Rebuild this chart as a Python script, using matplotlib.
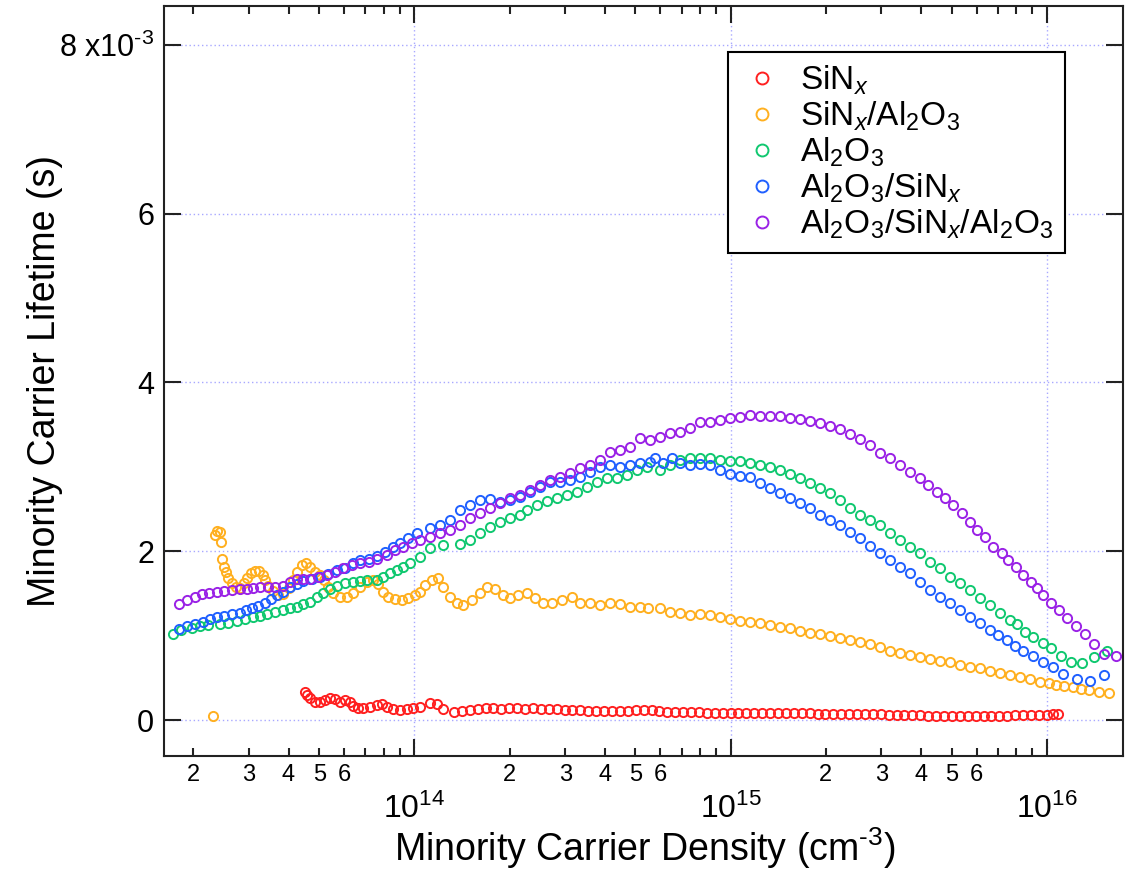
import numpy as np
import matplotlib
matplotlib.use('Agg')
import matplotlib.pyplot as plt
from matplotlib.ticker import FixedLocator, FuncFormatter, NullLocator

plt.rcParams['font.family'] = 'Liberation Sans'
plt.rcParams['mathtext.fontset'] = 'custom'
plt.rcParams['mathtext.rm'] = 'Liberation Sans'
plt.rcParams['mathtext.it'] = 'Liberation Sans:italic'
plt.rcParams['mathtext.bf'] = 'Liberation Sans:bold'

# log10 of minority carrier density (cm^-3) and lifetime (ms) for each stack

logn_sinx = [13.654, 13.660, 13.670, 13.686, 13.702, 13.718, 13.733, 13.749, 13.765, 13.781,
             13.797, 13.807, 13.823, 13.839, 13.860, 13.881, 13.897, 13.913, 13.934, 13.955,
             13.976, 13.997, 14.018, 14.050, 14.071, 14.092, 14.125, 14.150, 14.175, 14.200,
             14.225, 14.250, 14.275, 14.300, 14.325, 14.350, 14.375, 14.400, 14.425, 14.450,
             14.475, 14.500, 14.525, 14.550, 14.575, 14.600, 14.625, 14.650, 14.675, 14.700,
             14.725, 14.750, 14.775, 14.800, 14.825, 14.850, 14.875, 14.900, 14.925, 14.950,
             14.975, 15.000, 15.025, 15.050, 15.075, 15.100, 15.125, 15.150, 15.175, 15.200,
             15.225, 15.250, 15.275, 15.300, 15.325, 15.350, 15.375, 15.400, 15.425, 15.450,
             15.475, 15.500, 15.525, 15.550, 15.575, 15.600, 15.625, 15.650, 15.675, 15.700,
             15.725, 15.750, 15.775, 15.800, 15.825, 15.850, 15.875, 15.900, 15.925, 15.950,
             15.975, 16.000, 16.020, 16.035]
tau_sinx = [0.335, 0.296, 0.257, 0.217, 0.217, 0.237, 0.264, 0.245, 0.217, 0.237,
            0.217, 0.166, 0.139, 0.139, 0.151, 0.178, 0.190, 0.158, 0.127, 0.119,
            0.127, 0.139, 0.154, 0.205, 0.190, 0.127, 0.100, 0.108, 0.120, 0.130,
            0.138, 0.140, 0.136, 0.140, 0.138, 0.135, 0.140, 0.133, 0.128, 0.125,
            0.122, 0.120, 0.116, 0.112, 0.110, 0.112, 0.108, 0.110, 0.112, 0.115,
            0.118, 0.114, 0.105, 0.100, 0.098, 0.095, 0.092, 0.090, 0.088, 0.088,
            0.086, 0.087, 0.088, 0.086, 0.085, 0.087, 0.086, 0.084, 0.082, 0.080,
            0.080, 0.078, 0.076, 0.074, 0.073, 0.071, 0.071, 0.070, 0.070, 0.069,
            0.066, 0.063, 0.061, 0.059, 0.057, 0.055, 0.053, 0.052, 0.051, 0.051,
            0.050, 0.051, 0.050, 0.051, 0.051, 0.051, 0.052, 0.054, 0.055, 0.057,
            0.060, 0.064, 0.068, 0.071]

logn_sinx_al2o3 = [13.364, 13.370, 13.377, 13.386, 13.388, 13.391, 13.398, 13.404, 13.412, 13.423,
                   13.436, 13.449, 13.461, 13.472, 13.483, 13.496, 13.510, 13.521, 13.528, 13.538,
                   13.554, 13.570, 13.586, 13.602, 13.617, 13.630, 13.644, 13.657, 13.670, 13.686,
                   13.702, 13.714, 13.728, 13.744, 13.765, 13.786, 13.807, 13.828, 13.849, 13.870,
                   13.886, 13.900, 13.918, 13.939, 13.960, 13.981, 14.002, 14.018, 14.034, 14.055,
                   14.076, 14.092, 14.113, 14.134, 14.155, 14.182, 14.208, 14.229, 14.255, 14.281,
                   14.303, 14.329, 14.355, 14.382, 14.408, 14.435, 14.466, 14.498, 14.524, 14.556,
                   14.587, 14.619, 14.651, 14.682, 14.714, 14.740, 14.777, 14.809, 14.840, 14.872,
                   14.904, 14.935, 14.967, 14.998, 15.030, 15.062, 15.093, 15.125, 15.157, 15.188,
                   15.220, 15.251, 15.283, 15.315, 15.346, 15.378, 15.410, 15.441, 15.473, 15.504,
                   15.536, 15.568, 15.599, 15.631, 15.663, 15.694, 15.726, 15.757, 15.789, 15.821,
                   15.852, 15.884, 15.916, 15.947, 15.979, 16.007, 16.029, 16.055, 16.082, 16.109,
                   16.135, 16.166, 16.198]
tau_sinx_al2o3 = [0.051, 2.193, 2.244, 2.232, 2.113, 1.905, 1.817, 1.758, 1.679, 1.620,
                  1.573, 1.561, 1.620, 1.679, 1.739, 1.769, 1.769, 1.719, 1.659, 1.588,
                  1.532, 1.482, 1.493, 1.561, 1.659, 1.758, 1.837, 1.857, 1.817, 1.758,
                  1.719, 1.659, 1.573, 1.502, 1.461, 1.461, 1.502, 1.580, 1.639, 1.659,
                  1.612, 1.521, 1.461, 1.431, 1.422, 1.442, 1.482, 1.521, 1.600, 1.659,
                  1.679, 1.580, 1.461, 1.383, 1.363, 1.422, 1.502, 1.573, 1.549, 1.482,
                  1.442, 1.482, 1.502, 1.442, 1.383, 1.390, 1.422, 1.461, 1.383, 1.383,
                  1.363, 1.383, 1.375, 1.343, 1.343, 1.324, 1.324, 1.284, 1.265, 1.244,
                  1.256, 1.244, 1.224, 1.194, 1.177, 1.165, 1.146, 1.126, 1.099, 1.087,
                  1.058, 1.035, 1.016, 0.996, 0.968, 0.948, 0.928, 0.901, 0.865, 0.821,
                  0.791, 0.770, 0.750, 0.723, 0.703, 0.684, 0.652, 0.632, 0.613, 0.584,
                  0.553, 0.530, 0.506, 0.482, 0.454, 0.435, 0.415, 0.403, 0.388, 0.367,
                  0.356, 0.335, 0.316]

logn_al2o3 = [13.236, 13.261, 13.296, 13.322, 13.348, 13.386, 13.411, 13.439, 13.465, 13.490,
              13.512, 13.534, 13.559, 13.585, 13.607, 13.629, 13.648, 13.670, 13.692, 13.711,
              13.733, 13.756, 13.781, 13.806, 13.828, 13.850, 13.882, 13.901, 13.923, 13.945,
              13.964, 13.986, 14.018, 14.050, 14.091, 14.145, 14.176, 14.208, 14.239, 14.271,
              14.303, 14.334, 14.356, 14.388, 14.420, 14.451, 14.483, 14.515, 14.546, 14.578,
              14.609, 14.641, 14.673, 14.704, 14.736, 14.777, 14.809, 14.840, 14.872, 14.904,
              14.935, 14.967, 14.998, 15.030, 15.062, 15.093, 15.125, 15.157, 15.188, 15.220,
              15.251, 15.283, 15.315, 15.346, 15.378, 15.410, 15.441, 15.473, 15.504, 15.536,
              15.568, 15.599, 15.631, 15.663, 15.694, 15.726, 15.757, 15.789, 15.821, 15.852,
              15.884, 15.906, 15.931, 15.957, 15.988, 16.014, 16.045, 16.077, 16.112, 16.150,
              16.191]
tau_al2o3 = [1.016, 1.067, 1.087, 1.114, 1.126, 1.138, 1.150, 1.177, 1.201, 1.224,
             1.236, 1.256, 1.280, 1.304, 1.327, 1.343, 1.375, 1.402, 1.458, 1.505,
             1.553, 1.588, 1.624, 1.636, 1.651, 1.659, 1.659, 1.695, 1.742, 1.778,
             1.817, 1.861, 1.932, 2.039, 2.074, 2.086, 2.133, 2.216, 2.287, 2.347,
             2.394, 2.430, 2.489, 2.548, 2.596, 2.631, 2.667, 2.702, 2.762, 2.821,
             2.868, 2.868, 2.904, 2.963, 2.999, 2.963, 3.022, 3.082, 3.105, 3.105,
             3.105, 3.082, 3.070, 3.070, 3.046, 3.022, 2.999, 2.963, 2.916, 2.868,
             2.809, 2.750, 2.690, 2.607, 2.513, 2.430, 2.370, 2.311, 2.216, 2.133,
             2.050, 1.979, 1.873, 1.802, 1.695, 1.624, 1.541, 1.446, 1.363, 1.268,
             1.185, 1.138, 1.043, 0.984, 0.913, 0.853, 0.759, 0.687, 0.676, 0.747,
             0.818]

logn_al2o3_sinx = [13.257, 13.280, 13.306, 13.331, 13.354, 13.375, 13.398, 13.423, 13.447, 13.468,
                   13.486, 13.507, 13.528, 13.547, 13.565, 13.586, 13.607, 13.628, 13.649, 13.676,
                   13.702, 13.728, 13.755, 13.781, 13.807, 13.828, 13.855, 13.881, 13.907, 13.934,
                   13.955, 13.981, 14.008, 14.050, 14.081, 14.113, 14.145, 14.176, 14.208, 14.239,
                   14.271, 14.303, 14.334, 14.366, 14.398, 14.429, 14.461, 14.492, 14.524, 14.556,
                   14.587, 14.619, 14.651, 14.682, 14.714, 14.745, 14.761, 14.787, 14.814, 14.840,
                   14.872, 14.904, 14.935, 14.967, 14.998, 15.030, 15.062, 15.093, 15.125, 15.157,
                   15.188, 15.220, 15.251, 15.283, 15.315, 15.346, 15.378, 15.410, 15.441, 15.473,
                   15.504, 15.536, 15.568, 15.599, 15.631, 15.663, 15.694, 15.726, 15.757, 15.789,
                   15.821, 15.847, 15.874, 15.900, 15.926, 15.955, 15.987, 16.019, 16.053, 16.095,
                   16.137, 16.182]
tau_al2o3_sinx = [1.075, 1.114, 1.138, 1.165, 1.194, 1.217, 1.233, 1.253, 1.272, 1.304,
                  1.324, 1.351, 1.390, 1.431, 1.482, 1.521, 1.573, 1.612, 1.651, 1.671,
                  1.691, 1.730, 1.778, 1.805, 1.857, 1.896, 1.908, 1.944, 1.995, 2.054,
                  2.094, 2.154, 2.213, 2.272, 2.311, 2.370, 2.489, 2.548, 2.607, 2.616,
                  2.587, 2.607, 2.647, 2.706, 2.765, 2.824, 2.824, 2.844, 2.884, 2.943,
                  3.002, 3.022, 3.002, 3.022, 3.042, 3.062, 3.105, 3.046, 3.105, 3.046,
                  3.022, 3.034, 3.022, 2.963, 2.916, 2.892, 2.877, 2.805, 2.746, 2.687,
                  2.628, 2.568, 2.509, 2.430, 2.370, 2.311, 2.232, 2.154, 2.065, 1.976,
                  1.896, 1.817, 1.739, 1.639, 1.541, 1.461, 1.383, 1.304, 1.224, 1.146,
                  1.067, 1.007, 0.948, 0.877, 0.821, 0.759, 0.691, 0.625, 0.545, 0.482,
                  0.466, 0.533]

logn_stack = [13.257, 13.280, 13.306, 13.328, 13.352, 13.375, 13.398, 13.423, 13.449, 13.470,
              13.491, 13.512, 13.538, 13.559, 13.586, 13.607, 13.628, 13.649, 13.670, 13.696,
              13.723, 13.749, 13.775, 13.802, 13.828, 13.855, 13.881, 13.913, 13.939, 13.965,
              13.992, 14.018, 14.050, 14.081, 14.113, 14.145, 14.176, 14.208, 14.239, 14.271,
              14.303, 14.334, 14.366, 14.398, 14.429, 14.461, 14.492, 14.524, 14.556, 14.587,
              14.619, 14.651, 14.682, 14.714, 14.745, 14.777, 14.809, 14.840, 14.872, 14.904,
              14.935, 14.967, 14.998, 15.030, 15.062, 15.093, 15.125, 15.157, 15.188, 15.220,
              15.251, 15.283, 15.315, 15.346, 15.378, 15.410, 15.441, 15.473, 15.504, 15.536,
              15.568, 15.599, 15.626, 15.652, 15.678, 15.705, 15.731, 15.757, 15.781, 15.805,
              15.831, 15.858, 15.879, 15.903, 15.926, 15.950, 15.969, 15.989, 16.014, 16.039,
              16.063, 16.093, 16.121, 16.151, 16.182, 16.219]
tau_stack = [1.371, 1.422, 1.461, 1.490, 1.509, 1.521, 1.532, 1.541, 1.549, 1.549,
             1.561, 1.573, 1.580, 1.573, 1.588, 1.639, 1.668, 1.668, 1.675, 1.691,
             1.719, 1.758, 1.798, 1.837, 1.857, 1.869, 1.905, 1.956, 2.015, 2.054,
             2.094, 2.133, 2.172, 2.213, 2.252, 2.311, 2.391, 2.450, 2.509, 2.568,
             2.628, 2.667, 2.726, 2.785, 2.844, 2.884, 2.924, 2.983, 3.022, 3.082,
             3.180, 3.200, 3.239, 3.339, 3.319, 3.358, 3.398, 3.417, 3.457, 3.528,
             3.535, 3.556, 3.576, 3.588, 3.615, 3.603, 3.603, 3.597, 3.585, 3.567,
             3.544, 3.514, 3.484, 3.443, 3.390, 3.336, 3.259, 3.161, 3.102, 3.022,
             2.943, 2.865, 2.785, 2.706, 2.628, 2.548, 2.450, 2.350, 2.252, 2.172,
             2.054, 1.976, 1.896, 1.817, 1.719, 1.639, 1.564, 1.482, 1.390, 1.304,
             1.212, 1.114, 1.016, 0.897, 0.782, 0.762]

labels = [r'SiN$_x$', r'SiN$_x$/Al$_2$O$_3$', r'Al$_2$O$_3$',
          r'Al$_2$O$_3$/SiN$_x$', r'Al$_2$O$_3$/SiN$_x$/Al$_2$O$_3$']
colors = ['#ff2020', '#ffb020', '#10c870', '#2060ff', '#9a22e6']
logn_sets = [logn_sinx, logn_sinx_al2o3, logn_al2o3, logn_al2o3_sinx, logn_stack]
tau_sets = [tau_sinx, tau_sinx_al2o3, tau_al2o3, tau_al2o3_sinx, tau_stack]


def minor_label(val, pos):
    mant = int(round(val / 10 ** np.floor(np.log10(val))))
    return str(mant) if mant <= 6 else ''


fig = plt.figure(figsize=(11.33, 8.69), dpi=100)
ax = fig.add_axes([0.1447, 0.1300, 0.8467, 0.8631])

for label, logn, tau, color in zip(labels, logn_sets, tau_sets, colors):
    ax.plot(10 ** np.array(logn), np.array(tau) * 1e-3, linestyle='none',
            marker='o', markersize=6.6, markerfacecolor='none',
            markeredgecolor=color, markeredgewidth=1.4, label=label)

ax.set_xscale('log')
ax.set_xlim(10 ** 13.208, 10 ** 16.242)
ax.set_ylim(-0.427e-3, 8.462e-3)

major_x = [1e14, 1e15, 1e16]
minor_x = [m * 10.0 ** k for k in (13, 14, 15, 16) for m in range(2, 10)]
ax.xaxis.set_major_locator(FixedLocator(major_x))
ax.xaxis.set_major_formatter(FuncFormatter(lambda v, p: r'10$^{%d}$' % round(np.log10(v))))
ax.xaxis.set_minor_locator(FixedLocator(minor_x))
ax.xaxis.set_minor_formatter(FuncFormatter(minor_label))

ax.yaxis.set_major_locator(FixedLocator([0, 2e-3, 4e-3, 6e-3, 8e-3]))
ax.yaxis.set_major_formatter(FuncFormatter(
    lambda v, p: r'8 x10$^{\text{-}3}$' if v > 7e-3 else '%d' % round(v * 1e3)))
ax.yaxis.set_minor_locator(NullLocator())

ax.tick_params(which='both', direction='in', top=True, right=True, width=1.5, color='#222222')
ax.tick_params(which='major', length=12.5)
ax.tick_params(which='minor', length=6)
ax.tick_params(axis='x', which='minor', labelsize=17, pad=6)
ax.tick_params(axis='x', which='major', labelsize=23, pad=27)
ax.tick_params(axis='y', which='major', labelsize=22, pad=7)

for spine in ax.spines.values():
    spine.set_linewidth(1.5)
    spine.set_color('#222222')

ax.grid(True, which='major', color='#a8a8ff', linestyle=(0, (1, 2)), linewidth=1.0)
ax.set_axisbelow(True)

ax.set_xlabel(r'Minority Carrier Density (cm$^{\text{-}3}$)', fontsize=27)
ax.set_ylabel('Minority Carrier Lifetime (s)', fontsize=27)
ax.xaxis.set_label_coords(0.501, -0.092)
ax.yaxis.set_label_coords(-0.105, 0.5)

leg = ax.legend(loc='upper left', bbox_to_anchor=(0.588, 0.9387), fontsize=24,
                frameon=True, fancybox=False, framealpha=1, edgecolor='black',
                borderpad=0.35, handlelength=1.35, handletextpad=0.45,
                labelspacing=0.08, borderaxespad=0, numpoints=1, markerscale=1.3)
leg.get_frame().set_linewidth(1.5)

fig.savefig('out.png', dpi=100)
